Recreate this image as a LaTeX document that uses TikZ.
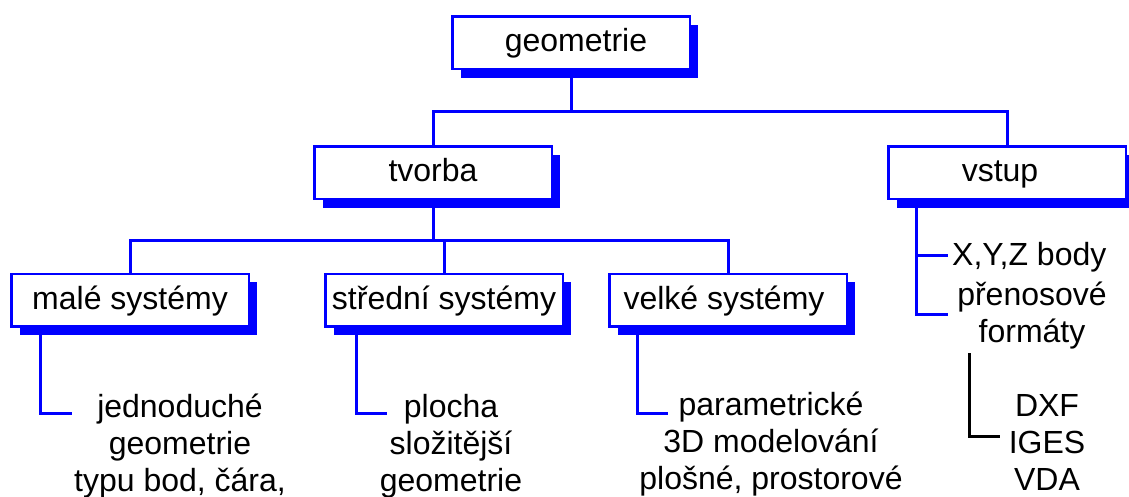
\documentclass[tikz,border=0pt]{standalone}
\usepackage{fontspec}
\setmainfont{Liberation Sans}
\usetikzlibrary{shadows}
\definecolor{frameblue}{RGB}{0,0,255}

\begin{document}
\begin{tikzpicture}[x=1pt,y=-1pt,
  box/.style={draw=frameblue, line width=2.5pt, fill=white,
    minimum width=237.5pt, minimum height=52.5pt, inner sep=0pt,
    text height=22pt, text depth=4pt, font=\fontsize{32}{37}\selectfont,
    drop shadow={shadow xshift=8.5pt, shadow yshift=-8.5pt, fill=frameblue, opacity=1}},
  link/.style={draw=frameblue, line width=3pt},
  plain/.style={draw=black, line width=3pt},
  leaf/.style={align=center, inner sep=0pt, font=\fontsize{32}{37}\selectfont}]

\useasboundingbox[fill=white] (0,0) rectangle (1129,497);

% boxes
\node[box] (geo)     at (571,43)  {\hspace*{10pt}geometrie};
\node[box] (tvorba)  at (433,173) {tvorba};
\node[box] (vstup)   at (1007,173){vstup\hspace*{14pt}};
\node[box] (male)    at (130,300) {malé systémy};
\node[box] (stredni) at (444,300) {střední systémy};
\node[box] (velke)   at (728,300) {velké systémy\hspace*{8pt}};

% leaf texts
\node[leaf] (lmale)    at (180,446) {jednoduché\\geometrie\\typu bod, čára,};
\node[leaf] (lstredni) at (451,446) {plocha\\složitější\\geometrie};
\node[leaf] (lvelke)   at (771,444) {parametrické\\3D modelování\\plošné, prostorové};
\node[leaf, anchor=west] (lxyz) at (952,257) {X,Y,Z body};
\node[leaf] (lformat)  at (1032,316) {přenosové\\formáty};
\node[leaf] (lformats) at (1047,442) {DXF\\IGES\\VDA};

% bus levels and free connector ends
\coordinate (busA) at (0,112);
\coordinate (busB) at (0,240);
\coordinate (mtip) at (72,413);
\coordinate (stip) at (387,413);
\coordinate (vtip) at (668,413);
\coordinate (xtip) at (948,255);
\coordinate (ftip) at (948,314);
\coordinate (ktop) at (969,353);
\coordinate (ktip) at (1000,436);
\coordinate (vs)   at ([xshift=29pt]vstup.south west);

% tree connectors
\draw[link] (geo.south) -- (geo.south |- busA);
\draw[link] (tvorba.north) |- (vstup.north |- busA) -- (vstup.north);
\draw[link] (tvorba.south) -- (tvorba.south |- busB);
\draw[link] (male.north) |- (velke.north |- busB) -- (velke.north);
\draw[link] (stredni.north) -- (stredni.north |- busB);

% connectors to the leaf texts
\draw[link] ([xshift=30pt]male.south west) |- (mtip);
\draw[link] ([xshift=32pt]stredni.south west) |- (stip);
\draw[link] ([xshift=29pt]velke.south west) |- (vtip);
\draw[link] (vs) |- (ftip);
\draw[link] (vs |- xtip) -- (xtip);
\draw[plain] (ktop) |- (ktip);
\end{tikzpicture}
\end{document}
